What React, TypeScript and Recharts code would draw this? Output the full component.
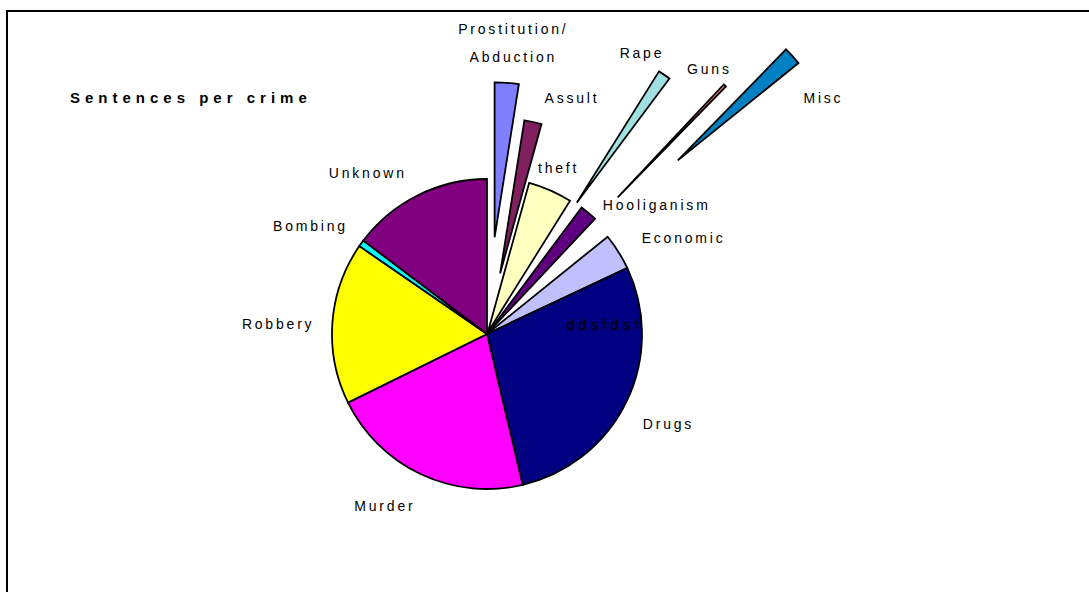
import React from 'react';
import { PieChart, Pie, Cell, Sector } from 'recharts';

const crimes = [
  'Prostitution/Abduction',
  'Assult',
  'theft',
  'Rape',
  'Hooliganism',
  'Guns',
  'Misc',
  'Economic',
  'Drugs',
  'Murder',
  'Robbery',
  'Bombing',
  'Unknown',
];
const sentences = [2.5, 1.8, 4.6, 1.3, 1.8, 0.3, 1.9, 3.8, 28.3, 21.4, 16.9, 0.7, 14.7];

const data = crimes.map((name, i) => ({ name, value: sentences[i] }));

const COLORS = [
  '#8080FF', '#802060', '#FFFFC0', '#A0E0E0', '#600080', '#FF8080', '#0080C0',
  '#C0C0FF', '#000080', '#FF00FF', '#FFFF00', '#00FFFF', '#800080',
];
// how far each slice is pulled out of the pie (px)
const EXPLODE = [97, 62, 2, 159, 3, 189, 258, 0, 0, 0, 0, 0, 0];
// label placement: shift from the slice middle (deg, clockwise) and distance from the centre
const LABEL_SHIFT = [0.4, 7.3, -0.8, -5.7, 12.6, -3.9, 7.1, 5.8, 0.9, 5.8, -1.4, -4.6, -10.4];
const LABEL_DIST = [292, 250, 180, 320, 212, 345, 410, 217.6, 201.5, 201, 210.5, 208, 201];

const FONT = '"Liberation Sans", Arial, sans-serif';

const renderSlice = (props: any) => {
  const i = crimes.indexOf(props.name ?? props.payload?.name);
  const off = EXPLODE[i] ?? 0;
  const rad = (props.midAngle * Math.PI) / 180;
  return (
    <Sector
      {...props}
      cx={props.cx + off * Math.cos(rad)}
      cy={props.cy - off * Math.sin(rad)}
    />
  );
};

const renderLabel = (props: any) => {
  const { cx, cy, midAngle, index } = props;
  const a = ((90 - midAngle + LABEL_SHIFT[index]) * Math.PI) / 180;
  const x = cx + LABEL_DIST[index] * Math.sin(a) + 1.4;
  const y = cy - LABEL_DIST[index] * Math.cos(a);
  const lines = crimes[index].split(/(?<=\/)/);
  return (
    <text
      key={`lbl-${index}`}
      x={x}
      y={y}
      textAnchor="middle"
      fontFamily={FONT}
      fontSize={14}
      fill="#000"
      stroke="none"
      style={{ letterSpacing: '2.8px' }}
    >
      {lines.map((l, k) => (
        <tspan key={k} x={x} y={y + 5 + (k - (lines.length - 1) / 2) * 28.5}>
          {l}
        </tspan>
      ))}
    </text>
  );
};

export default function App() {
  return (
    <div
      style={{
        position: 'fixed',
        left: 0,
        top: 0,
        width: 1089,
        height: 592,
        overflow: 'hidden',
        background: '#fff',
      }}
    >
      <div
        style={{
          position: 'absolute',
          left: 6,
          top: 10,
          width: 1300,
          height: 800,
          borderLeft: '2px solid #000',
          borderTop: '2px solid #000',
        }}
      />
      <div style={{ position: 'absolute', left: 0, top: 0 }}>
        <PieChart width={1089} height={592} margin={{ top: 0, right: 0, bottom: 0, left: 0 }}>
          <Pie
            data={data}
            dataKey="value"
            nameKey="name"
            cx={487}
            cy={334}
            outerRadius={155}
            startAngle={90}
            endAngle={-270}
            stroke="#000"
            strokeWidth={1.8}
            isAnimationActive={false}
            label={renderLabel}
            labelLine={false}
            shape={renderSlice}
            activeShape={renderSlice}
            inactiveShape={renderSlice}
          >
            {data.map((d, i) => (
              <Cell key={d.name} fill={COLORS[i]} />
            ))}
          </Pie>
        </PieChart>
      </div>
      <svg
        width={1089}
        height={592}
        style={{ position: 'absolute', left: 0, top: 0, pointerEvents: 'none' }}
      >
        <text x={70} y={103} fontFamily={FONT} fontSize={15} fontWeight="bold" style={{ letterSpacing: '5px' }}>
          Sentences per crime
        </text>
        <text x={566} y={330} fontFamily={FONT} fontSize={15} style={{ letterSpacing: '4px' }}>
          ddsfdsf
        </text>
      </svg>
    </div>
  );
}
